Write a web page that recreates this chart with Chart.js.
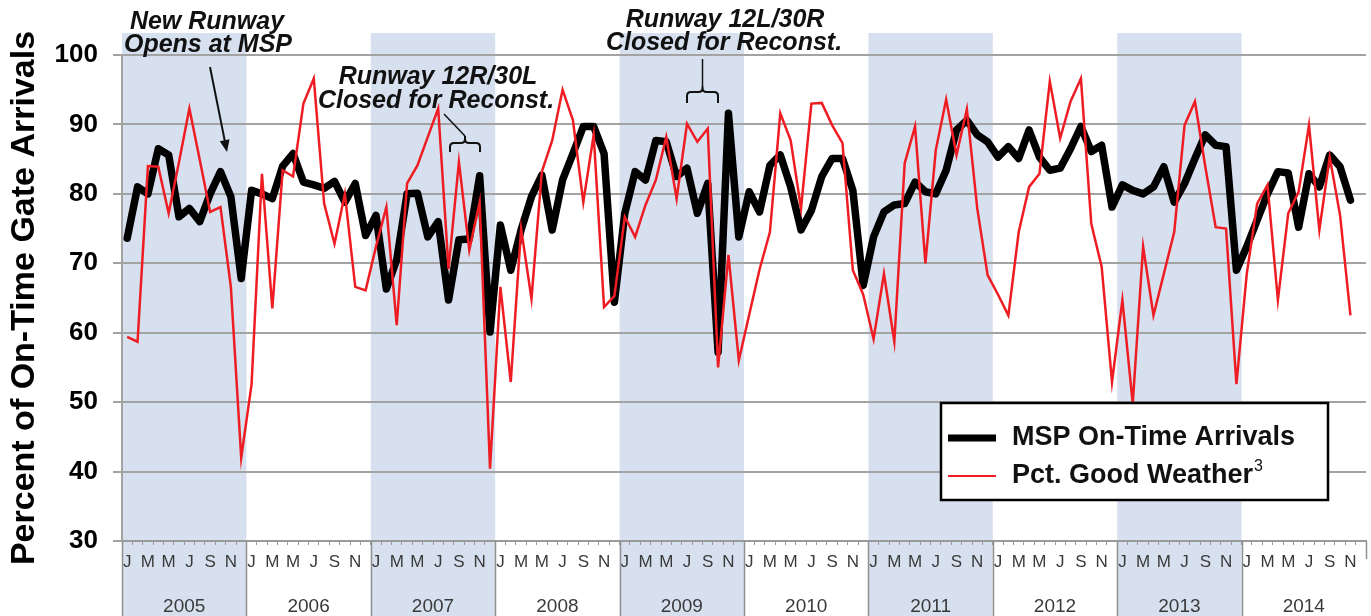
<!DOCTYPE html>
<html><head><meta charset="utf-8">
<script src="https://cdn.jsdelivr.net/npm/chart.js@4.4.0/dist/chart.umd.min.js"></script>
<style>html,body{margin:0;padding:0;background:#fff;}#wrap{width:1371px;height:616px;}</style>
</head><body><div id="wrap"><canvas id="c" width="1371" height="616"></canvas></div>
<script>
const years = ['2005','2006','2007','2008','2009','2010','2011','2012','2013','2014'];
const monthLetters = ['J','F','M','A','M','J','J','A','S','O','N','D'];
const shadedYears = ['2005','2007','2009','2011','2013'];
const yMin = 30, yMax = 100, yStep = 10;
const seriesNames = ['MSP On-Time Arrivals', 'Pct. Good Weather'];
const yTitle = 'Percent of On-Time Gate Arrivals';

// Monthly values, Jan 2005 .. Nov 2014
const onTime = [
  73.6, 81.0, 80.0, 86.5, 85.6, 76.7, 77.9, 76.0, 80.0, 83.2, 79.6, 67.8,
  80.5, 80.0, 79.3, 84.0, 85.8, 81.7, 81.3, 80.8, 81.8, 78.8, 81.5, 74.0,
  76.9, 66.3, 70.5, 80.0, 80.1, 73.8, 76.0, 64.7, 73.4, 73.5, 82.6, 60.1,
  75.5, 69.0, 74.8, 79.6, 82.7, 74.8, 82.0, 85.8, 89.7, 89.7, 85.8, 64.4,
  77.2, 83.2, 82.0, 87.7, 87.5, 82.5, 83.7, 77.2, 81.5, 57.2, 91.6, 73.8,
  80.3, 77.4, 84.1, 85.6, 81.0, 74.8, 77.6, 82.5, 85.1, 85.1, 80.5, 66.8,
  73.8, 77.4, 78.4, 78.6, 81.7, 80.3, 80.0, 83.4, 89.2, 90.6, 88.5, 87.5,
  85.3, 86.8, 85.1, 89.2, 85.3, 83.4, 83.7, 86.5, 89.7, 86.1, 87.0, 78.1,
  81.3, 80.5, 80.0, 81.0, 83.9, 78.8, 81.5, 85.1, 88.5, 87.0, 86.8, 69.0,
  72.4, 76.2, 80.0, 83.2, 83.0, 75.2, 82.9, 81.0, 85.6, 83.9, 79.1
];
const goodWeather = [
  59.4, 58.7, 84.0, 83.9, 77.2, 84.6, 92.3, 84.9, 77.4, 78.1, 66.6, 42.0,
  52.6, 82.9, 63.5, 83.4, 82.5, 93.0, 96.6, 78.6, 72.8, 80.0, 66.6, 66.1,
  72.4, 78.1, 61.1, 81.5, 84.1, 88.2, 92.3, 69.2, 84.6, 71.9, 78.8, 40.4,
  66.6, 52.9, 75.0, 64.9, 83.2, 87.7, 95.0, 90.6, 78.8, 88.5, 63.7, 65.3,
  76.7, 73.8, 78.4, 82.0, 88.2, 79.3, 90.1, 87.5, 89.4, 55.0, 71.2, 56.0,
  62.6, 69.1, 74.5, 91.6, 87.7, 77.9, 93.0, 93.1, 89.9, 87.3, 69.0, 65.5,
  59.1, 68.5, 58.7, 84.4, 89.7, 70.0, 86.3, 93.6, 85.6, 92.2, 77.9, 68.3,
  65.5, 62.5, 74.5, 81.0, 82.9, 96.2, 88.0, 93.3, 96.6, 75.7, 69.5, 52.9,
  64.7, 49.8, 72.4, 62.5, 68.5, 74.5, 89.9, 93.3, 83.9, 75.2, 75.0, 52.6,
  68.5, 78.6, 81.3, 64.7, 77.2, 80.3, 89.9, 74.8, 85.3, 76.9, 62.5
];

const monthLabels = [];
years.forEach(y => monthLetters.forEach((m, i) => monthLabels.push(m + '-' + y)));

const FAM = '"Liberation Sans", Arial, Helvetica, sans-serif';
Chart.defaults.font.family = FAM;

function drawBrace(ctx, xL, xR, yTop, yBot, tipY) {
  const cx = (xL + xR) / 2, r = 4;
  ctx.beginPath();
  ctx.moveTo(xL, yBot); ctx.lineTo(xL, yTop + r);
  ctx.quadraticCurveTo(xL, yTop, xL + r, yTop);
  ctx.lineTo(cx - r, yTop);
  ctx.quadraticCurveTo(cx, yTop, cx, yTop - r);
  ctx.lineTo(cx, tipY);
  ctx.moveTo(xR, yBot); ctx.lineTo(xR, yTop + r);
  ctx.quadraticCurveTo(xR, yTop, xR - r, yTop);
  ctx.lineTo(cx + r, yTop);
  ctx.quadraticCurveTo(cx, yTop, cx, yTop - r);
  ctx.stroke();
}

const decor = {
  id: 'decor',
  beforeDraw(chart) {
    const ctx = chart.ctx, xs = chart.scales.x;
    const half = (xs.getPixelForValue(1) - xs.getPixelForValue(0)) / 2;
    ctx.save();
    ctx.fillStyle = '#d7e0ef';
    years.forEach((y, k) => {
      if (!shadedYears.includes(y)) return;
      const x0 = xs.getPixelForValue(k * 12) - half;
      const x1 = xs.getPixelForValue(k * 12 + 11) + half;
      ctx.fillRect(x0, 33, x1 - x0, chart.height - 33);
    });
    ctx.restore();
  },
  afterDraw(chart) {
    const ctx = chart.ctx, xs = chart.scales.x, ca = chart.chartArea;
    const half = (xs.getPixelForValue(1) - xs.getPixelForValue(0)) / 2;
    ctx.save();
    // year separators
    ctx.strokeStyle = '#8f8f8f'; ctx.lineWidth = 1.5;
    for (let k = 0; k <= years.length; k++) {
      const x = Math.round(k < years.length ? xs.getPixelForValue(k * 12) - half : xs.getPixelForValue(k * 12 - 1) + half) + 0.5;
      ctx.beginPath(); ctx.moveTo(x, ca.bottom); ctx.lineTo(x, k < years.length ? chart.height : ca.bottom + 18); ctx.stroke();
    }
    // annotations
    ctx.fillStyle = '#111'; ctx.strokeStyle = '#111';
    ctx.font = 'italic bold 25px ' + FAM;
    ctx.textAlign = 'center'; ctx.textBaseline = 'middle';
    ctx.fillText('New Runway', 207, 22);
    ctx.fillText('Opens at MSP', 208, 45);
    ctx.fillText('Runway 12R/30L', 438, 77);
    ctx.fillText('Closed for Reconst.', 436, 101);
    ctx.fillText('Runway 12L/30R', 725, 20);
    ctx.fillText('Closed for Reconst.', 724, 43);
    // arrow
    ctx.lineWidth = 2;
    const ax0 = 210, ay0 = 67, ax1 = 227, ay1 = 152;
    const ang = Math.atan2(ay1 - ay0, ax1 - ax0);
    ctx.beginPath(); ctx.moveTo(ax0, ay0);
    ctx.lineTo(ax1 - 9 * Math.cos(ang), ay1 - 9 * Math.sin(ang)); ctx.stroke();
    ctx.beginPath();
    ctx.moveTo(ax1, ay1);
    ctx.lineTo(ax1 - 12 * Math.cos(ang) + 5 * Math.sin(ang), ay1 - 12 * Math.sin(ang) - 5 * Math.cos(ang));
    ctx.lineTo(ax1 - 12 * Math.cos(ang) - 5 * Math.sin(ang), ay1 - 12 * Math.sin(ang) + 5 * Math.cos(ang));
    ctx.closePath(); ctx.fill();
    // braces
    ctx.lineWidth = 2;
    drawBrace(ctx, 450, 480, 143, 152, 136);
    ctx.lineWidth = 1.5;
    ctx.beginPath(); ctx.moveTo(465, 136); ctx.lineTo(444, 114); ctx.stroke();
    ctx.lineWidth = 2;
    drawBrace(ctx, 687, 718, 92, 103, 86);
    ctx.lineWidth = 1.5;
    ctx.beginPath(); ctx.moveTo(702.5, 86); ctx.lineTo(702.5, 59); ctx.stroke();
    // legend
    const lx = 941, ly = 403, lw = 387, lh = 97;
    ctx.fillStyle = '#fff'; ctx.fillRect(lx, ly, lw, lh);
    ctx.strokeStyle = '#000'; ctx.lineWidth = 2.5; ctx.strokeRect(lx, ly, lw, lh);
    const ds = chart.data.datasets;
    ctx.lineCap = 'butt';
    ctx.strokeStyle = ds[0].borderColor; ctx.lineWidth = 7;
    ctx.beginPath(); ctx.moveTo(948, 438); ctx.lineTo(996, 438); ctx.stroke();
    ctx.strokeStyle = ds[1].borderColor; ctx.lineWidth = 2;
    ctx.beginPath(); ctx.moveTo(948, 476); ctx.lineTo(996, 476); ctx.stroke();
    ctx.fillStyle = '#111'; ctx.textAlign = 'left'; ctx.textBaseline = 'middle';
    ctx.font = 'bold 27px ' + FAM;
    ctx.fillText(ds[0].label, 1012, 438);
    ctx.fillText(ds[1].label, 1012, 476);
    const w = ctx.measureText(ds[1].label).width;
    ctx.font = '16px ' + FAM;
    ctx.fillText('3', 1012 + w + 1, 467);
    ctx.restore();
  }
};

new Chart(document.getElementById('c'), {
  type: 'line',
  data: {
    labels: monthLabels,
    datasets: [
      { label: seriesNames[0], data: onTime, borderColor: '#000000', borderWidth: 7.5, pointRadius: 0, tension: 0,
        borderJoinStyle: 'round', borderCapStyle: 'round', order: 2, xAxisID: 'x', yAxisID: 'y' },
      { label: seriesNames[1], data: goodWeather, borderColor: '#ee1d23', borderWidth: 2.5, pointRadius: 0, tension: 0,
        order: 1, xAxisID: 'x', yAxisID: 'y' }
    ]
  },
  options: {
    responsive: false, animation: false, devicePixelRatio: 1,
    layout: { padding: { top: 55, right: 5, left: 0, bottom: 0 } },
    plugins: { legend: { display: false }, tooltip: { enabled: false } },
    scales: {
      x: {
        type: 'category', position: 'bottom', offset: true, weight: 0,
        grid: { display: true, offset: true, drawOnChartArea: false, drawTicks: true, tickLength: 4, color: '#9a9a9a', lineWidth: 1 },
        border: { display: true, color: '#9a9a9a', width: 2 },
        ticks: { autoSkip: false, maxRotation: 0, minRotation: 0, padding: 7, color: '#3a3a3a', font: { size: 17 },
          callback: (v, i) => (i % 2 === 0 ? monthLetters[i % 12] : '') },
        afterFit: s => { s.height = 36; }
      },
      x2: {
        type: 'category', labels: years, position: 'bottom', offset: true, weight: 1,
        grid: { display: false }, border: { display: false },
        ticks: { autoSkip: false, maxRotation: 0, padding: 10, color: '#3a3a3a', font: { size: 19 } },
        afterFit: s => { s.height = 39; }
      },
      y: {
        min: yMin, max: yMax,
        ticks: { stepSize: yStep, padding: 15, color: '#000', font: { size: 26, weight: 'bold' } },
        grid: { color: '#a3a3a3', lineWidth: 2, drawTicks: true, tickLength: 9 },
        border: { display: true, color: '#a3a3a3', width: 2 },
        title: { display: true, text: yTitle, color: '#000', font: { size: 34, weight: 'bold' }, padding: { top: 4, bottom: 0 } },
        afterFit: s => { s.width = 122; }
      }
    }
  },
  plugins: [decor]
});
</script></body></html>
